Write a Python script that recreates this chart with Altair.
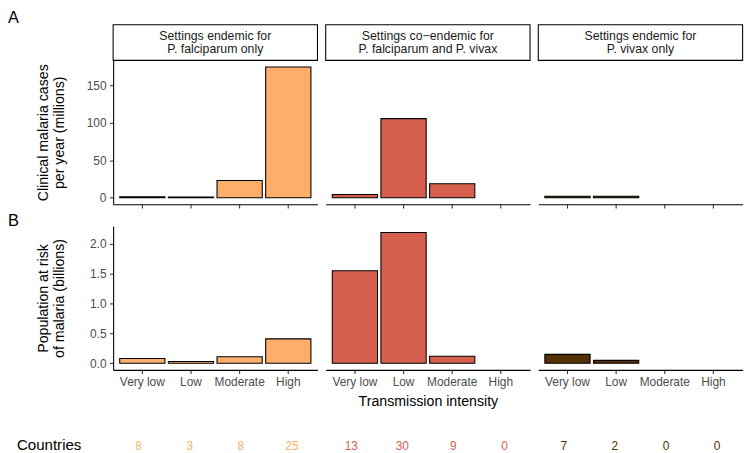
import altair as alt
import pandas as pd

FONT = "Liberation Sans"

# ---------------- data ----------------
cats = ["Very low", "Low", "Moderate", "High"]
strip_labels = [
    "Settings endemic for\nP. falciparum only",
    "Settings co\u2212endemic for\nP. falciparum and P. vivax",
    "Settings endemic for\nP. vivax only",
]
colors = ["#FDAE6B", "#D6604D", "#543005"]

cases_falc = [1.2, 1.0, 23, 174.5]
cases_co = [4.2, 105.5, 18.5, None]
cases_viv = [2.0, 2.0, None, None]

pop_falc = [0.08, 0.03, 0.11, 0.41]
pop_co = [1.55, 2.19, 0.12, None]
pop_viv = [0.15, 0.05, None, None]

countries_falc = [8, 3, 8, 25]
countries_co = [13, 30, 9, 0]
countries_viv = [7, 2, 0, 0]

cases_ticks = [0, 50, 100, 150]
pop_ticks = [0.0, 0.5, 1.0, 1.5, 2.0]

cases_title = ["Clinical malaria cases", "per year (millions)"]
pop_title = ["Population at risk", "of malaria (billions)"]
x_title = "Transmission intensity"

# ---------------- layout ----------------
W = 206
H = 145
SP = 8.3
STRIP_H = 36
GAP = 21.7
COUNT_H = 81
LH = 13.6

x_scale = alt.Scale(domain=cats, paddingInner=0.07, paddingOuter=0.135)
cases_dom = [-8.7, 183.2]
pop_dom = [-0.1095, 2.2995]


def bar_panel(values, color, ydomain, yticks, yfmt, ytitle, show_y, show_xlabels, xtitle):
    df = pd.DataFrame({"intensity": cats, "value": values}).dropna()
    xaxis = alt.Axis(labels=show_xlabels, labelAngle=0, labelPadding=3,
                     title=xtitle, titlePadding=7)
    if show_y:
        yaxis = alt.Axis(values=yticks, format=yfmt, title=ytitle,
                         labelPadding=3.5, minExtent=27, maxExtent=27,
                         titlePadding=20, titleLineHeight=16.5)
    else:
        yaxis = None
    return alt.Chart(df).mark_bar(
        color=color, stroke="black", strokeWidth=1.07
    ).encode(
        x=alt.X("intensity:N", sort=cats, scale=x_scale, axis=xaxis),
        y=alt.Y("value:Q", scale=alt.Scale(domain=ydomain, nice=False, zero=False), axis=yaxis),
        y2=alt.datum(0),
    ).properties(width=W, height=H)


def strip(label, tag=None):
    df = pd.DataFrame({"label": [label], "tag": [tag or ""]})
    base = alt.Chart(df)
    box = base.mark_rect(fill="white", stroke="black", strokeWidth=1.07).encode(
        x=alt.value(0), x2=alt.value(W), y=alt.value(0), y2=alt.value(STRIP_H)
    )
    txt = base.mark_text(
        font=FONT, fontSize=12.4, color="#1A1A1A", lineBreak="\n", lineHeight=LH,
        align="center", baseline="middle"
    ).encode(text="label:N", x=alt.value(W / 2), y=alt.value(STRIP_H / 2 - LH / 2))
    layers = [box, txt]
    if tag:
        layers.append(base.mark_text(
            font=FONT, fontSize=16.5, color="black", align="left", baseline="top"
        ).encode(text="tag:N", x=alt.value(-106), y=alt.value(-15)))
    return alt.layer(*layers).properties(width=W, height=STRIP_H)


def count_panel(counts, color, first=False):
    df = pd.DataFrame({"intensity": cats, "n": [str(c) for c in counts]})
    nums = alt.Chart(df).mark_text(
        font=FONT, fontSize=12, color=color, align="center", baseline="alphabetic"
    ).encode(
        x=alt.X("intensity:N", sort=cats, scale=x_scale, axis=None),
        y=alt.value(COUNT_H),
        text="n:N",
    )
    layers = [nums]
    if first:
        lab = alt.Chart(pd.DataFrame({"t": ["Countries"]})).mark_text(
            font=FONT, fontSize=15.2, color="black", align="left", baseline="alphabetic"
        ).encode(text="t:N", x=alt.value(-97), y=alt.value(COUNT_H))
        layers.append(lab)
    return alt.layer(*layers).properties(width=W, height=COUNT_H)


def spacer():
    return alt.Chart(pd.DataFrame({"a": [0]})).mark_point(opacity=0).encode(
        x=alt.value(0), y=alt.value(0)
    ).properties(width=W, height=GAP)


b_first = alt.layer(
    bar_panel(pop_falc, colors[0], pop_dom, pop_ticks, ".1f", pop_title, True, True, None),
    alt.Chart(pd.DataFrame({"t": ["B"]})).mark_text(
        font=FONT, fontSize=16.5, color="black", align="left", baseline="top"
    ).encode(text="t:N", x=alt.value(-106), y=alt.value(-13))
)

cells = [
    strip(strip_labels[0], "A"), strip(strip_labels[1]), strip(strip_labels[2]),
    bar_panel(cases_falc, colors[0], cases_dom, cases_ticks, "d", cases_title, True, False, None),
    bar_panel(cases_co, colors[1], cases_dom, cases_ticks, "d", cases_title, False, False, None),
    bar_panel(cases_viv, colors[2], cases_dom, cases_ticks, "d", cases_title, False, False, None),
    spacer(), spacer(), spacer(),
    b_first,
    bar_panel(pop_co, colors[1], pop_dom, pop_ticks, ".1f", pop_title, False, True, x_title),
    bar_panel(pop_viv, colors[2], pop_dom, pop_ticks, ".1f", pop_title, False, True, None),
    count_panel(countries_falc, colors[0], True),
    count_panel(countries_co, colors[1]),
    count_panel(countries_viv, colors[2]),
]

chart = alt.concat(
    *cells, columns=3, spacing={"row": 0, "column": SP}, bounds="flush", align="each"
).properties(
    padding=0, background="white"
).configure_view(
    strokeWidth=0
).configure_axis(
    domainColor="black", domainWidth=1.07,
    tickColor="#333333", tickWidth=1.07, tickSize=3.7,
    labelColor="#4D4D4D", labelFont=FONT, labelFontSize=12,
    titleFont=FONT, titleFontSize=14.3, titleColor="black", titleFontWeight="normal",
    grid=False
)

chart.save("out.html", embed_options={"renderer": "svg", "actions": False})
